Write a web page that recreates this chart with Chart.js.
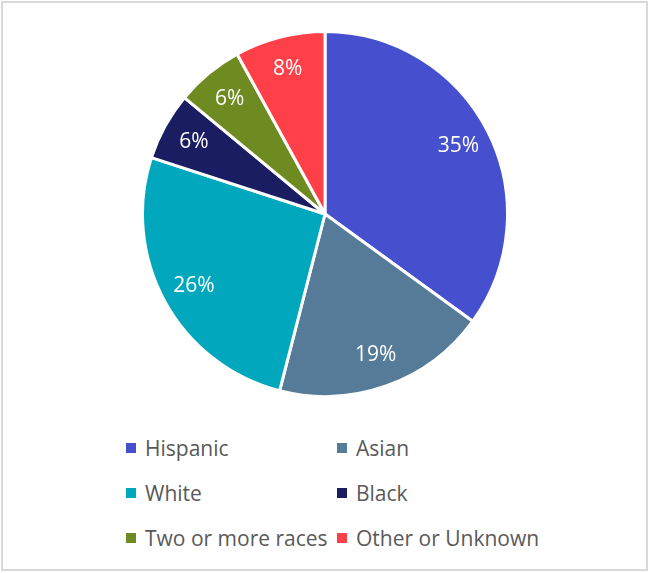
<!DOCTYPE html>
<html>
<head>
<meta charset="utf-8">
<script src="https://cdn.jsdelivr.net/npm/chart.js@4"></script>
<style>
    body { margin: 0; background: #fff; font-family: "Open Sans", sans-serif; }
    .frame {
        position: absolute; left: 1px; top: 1px; width: 643px; height: 566px;
        border: 2px solid #d9d9d9; background: #fff;
    }
    #pieWrap { position: absolute; left: 140px; top: 29px; width: 370px; height: 370px; }
    #legend {
        position: absolute; left: 126px; top: 425px;
        display: grid; grid-template-columns: 211px 211px; grid-auto-rows: 45px;
        color: #595959; font-size: 21px;
    }
    .item { display: flex; align-items: center; white-space: nowrap; }
    .box { width: 10px; height: 10px; margin-right: 9px; flex: none; }
</style>
</head>
<body>
<div class="frame"></div>
<div id="pieWrap"><canvas id="pieChart"></canvas></div>
<div id="legend"></div>

<script>
// data
const categories = ['Hispanic', 'Asian', 'White', 'Black', 'Two or more races', 'Other or Unknown'];
const shares = [35, 19, 26, 6, 6, 8];
const colors = ['#4650ce', '#557b98', '#01a8bd', '#1b1d62', '#6d8b21', '#ff4048'];

/* percent labels inside the slices */
const sliceLabels = {
    id: 'sliceLabels',
    afterDatasetsDraw(chart) {
        const ctx = chart.ctx;
        const meta = chart.getDatasetMeta(0);
        ctx.save();
        ctx.fillStyle = '#fff';
        ctx.font = '21px "Open Sans"';
        ctx.textAlign = 'center';
        ctx.textBaseline = 'middle';
        meta.data.forEach((arc, i) => {
            const p = arc.getProps(['x', 'y', 'startAngle', 'endAngle', 'outerRadius']);
            const mid = (p.startAngle + p.endAngle) / 2;
            const r = p.outerRadius * 0.82;
            ctx.fillText(shares[i] + '%', p.x + Math.cos(mid) * r, p.y + Math.sin(mid) * r);
        });
        ctx.restore();
    }
};

new Chart(document.getElementById('pieChart'), {
    type: 'pie',
    data: {
        labels: categories,
        datasets: [{
            data: shares,
            backgroundColor: colors,
            borderColor: '#fff',
            borderWidth: 3
        }]
    },
    options: {
        responsive: true,
        maintainAspectRatio: false,
        animation: false,
        layout: { padding: 1 },
        plugins: {
            legend: { display: false },
            tooltip: { enabled: false }
        }
    },
    plugins: [sliceLabels]
});

// legend in two columns, like the original
const legend = document.getElementById('legend');
categories.forEach((name, i) => {
    legend.innerHTML += '<div class="item"><span class="box" style="background:' + colors[i] + '"></span>' + name + '</div>';
});
</script>
</body>
</html>
